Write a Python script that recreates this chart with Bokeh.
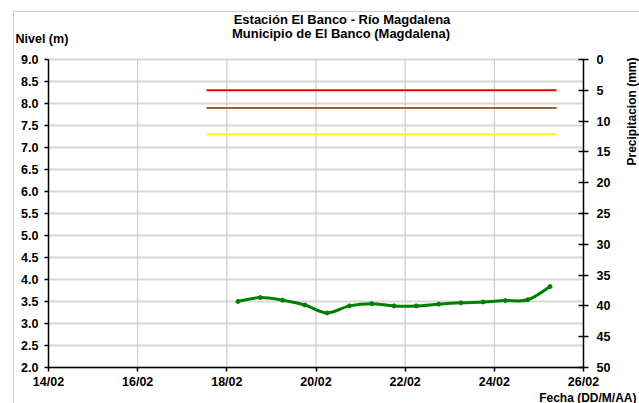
import numpy as np
import pandas as pd
from bokeh.plotting import figure
from bokeh.models import (Range1d, LinearAxis, DatetimeAxis, FixedTicker, DatetimeTickFormatter,
                          Label, BoxAnnotation, ColumnDataSource, NumeralTickFormatter)
from bokeh.embed import file_html
from bokeh.resources import INLINE

# ---------------- data ----------------
title_lines = ["Estación El Banco - Río Magdalena", "Municipio de El Banco (Magdalena)"]
y_label = "Nivel (m)"
x_label = "Fecha (DD/M/AA)"
y2_label = "Precipitacion (mm)"

level_times = ["2012-02-18 06:00", "2012-02-18 18:00", "2012-02-19 06:00", "2012-02-19 18:00",
               "2012-02-20 06:00", "2012-02-20 18:00", "2012-02-21 06:00", "2012-02-21 18:00",
               "2012-02-22 06:00", "2012-02-22 18:00", "2012-02-23 06:00", "2012-02-23 18:00",
               "2012-02-24 06:00", "2012-02-24 18:00", "2012-02-25 06:00"]
level_values = [3.50, 3.59, 3.53, 3.42, 3.24, 3.40, 3.45, 3.40,
                3.40, 3.44, 3.47, 3.49, 3.52, 3.54, 3.84]

threshold_start = "2012-02-17 13:00"
threshold_end = "2012-02-25 09:30"
threshold_values = [8.3, 7.9, 7.3]
threshold_colors = ["#FF0000", "#A0602D", "#FFFF00"]

x_start = "2012-02-14"
x_end = "2012-02-26"
x_ticks = ["2012-02-14", "2012-02-16", "2012-02-18", "2012-02-20",
           "2012-02-22", "2012-02-24", "2012-02-26"]
y_min, y_max = 2.0, 9.0
y_ticks = [2.0, 2.5, 3.0, 3.5, 4.0, 4.5, 5.0, 5.5, 6.0, 6.5, 7.0, 7.5, 8.0, 8.5, 9.0]
p_min, p_max = 0, 50
precip_ticks = [0, 5, 10, 15, 20, 25, 30, 35, 40, 45, 50]


def ms(values):
    return pd.to_datetime(values).values.astype("datetime64[ms]").astype("int64").astype(float)


FONT = "Liberation Sans"
TICK_SIZE = "12.5px"
W, H = 639, 403
# plot-area geometry in pixels (axes are drawn at fixed locations inside a full-canvas frame)
PL, PR, PT, PB = 48.0, 583.0, 59.0, 367.0

tx0, tx1 = ms([x_start, x_end])


def xd(px):
    return tx0 + (px - PL) / (PR - PL) * (tx1 - tx0)


def yd(py):
    return y_max - (py - PT) / (PB - PT) * (y_max - y_min)


def pdv(py):
    return p_min + (py - PT) / (PB - PT) * (p_max - p_min)


xt = ms(level_times)
yv = np.array(level_values, dtype=float)
xtk = list(ms(x_ticks))

p = figure(width=W, height=H,
           x_range=Range1d(xd(0), xd(W)), y_range=Range1d(yd(H), yd(0)),
           output_backend="svg", toolbar_location=None,
           x_axis_location=None, y_axis_location=None)
p.min_border = 0
p.outline_line_color = None
p.background_fill_color = "white"
p.border_fill_color = "white"
p.xgrid.visible = False
p.ygrid.visible = False

# grid lines restricted to the plot area
p.segment(x0=[tx0] * len(y_ticks), x1=[tx1] * len(y_ticks), y0=y_ticks, y1=y_ticks,
          line_color="#d8d8d8", line_width=2)
p.segment(x0=xtk, x1=xtk, y0=[y_min] * len(xtk), y1=[y_max] * len(xtk),
          line_color="#c4c4c4", line_width=1)

# chart-area border
p.add_layout(BoxAnnotation(left=xd(13), right=xd(W + 60), top=yd(11), bottom=yd(H + 60),
                           fill_color=None, line_color="#555555", line_width=1))


def style_axis(ax, tin, tout, standoff):
    ax.axis_line_color = "black"
    ax.axis_line_width = 1.5
    ax.major_tick_line_color = "black"
    ax.major_tick_line_width = 1.5
    ax.major_tick_in = tin
    ax.major_tick_out = tout
    ax.minor_tick_line_color = None
    ax.major_label_standoff = standoff
    ax.major_label_text_font = FONT
    ax.major_label_text_font_style = "bold"
    ax.major_label_text_font_size = TICK_SIZE
    ax.major_label_text_color = "black"


fmt = "%d/%m"
xaxis = DatetimeAxis(ticker=FixedTicker(ticks=xtk), bounds=(tx0, tx1), fixed_location=y_min,
                     formatter=DatetimeTickFormatter(milliseconds=fmt, seconds=fmt, minsec=fmt,
                                                     minutes=fmt, hourmin=fmt, hours=fmt,
                                                     days=fmt, months=fmt, years=fmt))
style_axis(xaxis, 0, 4, 3)
p.add_layout(xaxis, "below")

yaxis = LinearAxis(ticker=FixedTicker(ticks=y_ticks), bounds=(y_min, y_max), fixed_location=tx0,
                   formatter=NumeralTickFormatter(format="0.0"))
style_axis(yaxis, 0, 4, 6)
p.add_layout(yaxis, "left")

p.extra_y_ranges = {"precip": Range1d(start=pdv(H), end=pdv(0))}
ax2 = LinearAxis(y_range_name="precip", ticker=FixedTicker(ticks=precip_ticks),
                 bounds=(p_min, p_max), fixed_location=tx1)
style_axis(ax2, 5, 5, 8)
p.add_layout(ax2, "right")

# threshold lines
t0, t1 = ms([threshold_start, threshold_end])
for v, c in zip(threshold_values, threshold_colors):
    p.line([t0, t1], [v, v], line_color=c, line_width=2)

# smoothed level curve (Catmull-Rom style bezier through the data points)
n = len(xt)
x0s, y0s, x1s, y1s, cx0, cy0, cx1, cy1 = [], [], [], [], [], [], [], []
for i in range(n - 1):
    ip = max(i - 1, 0)
    inn = min(i + 2, n - 1)
    x0s.append(xt[i]); y0s.append(yv[i])
    x1s.append(xt[i + 1]); y1s.append(yv[i + 1])
    cx0.append(xt[i] + (xt[i + 1] - xt[ip]) / 6.0)
    cy0.append(yv[i] + (yv[i + 1] - yv[ip]) / 6.0)
    cx1.append(xt[i + 1] - (xt[inn] - xt[i]) / 6.0)
    cy1.append(yv[i + 1] - (yv[inn] - yv[i]) / 6.0)
bsrc = ColumnDataSource(dict(x0=x0s, y0=y0s, x1=x1s, y1=y1s, cx0=cx0, cy0=cy0, cx1=cx1, cy1=cy1))
p.bezier(x0="x0", y0="y0", x1="x1", y1="y1", cx0="cx0", cy0="cy0", cx1="cx1", cy1="cy1",
         source=bsrc, line_color="#008000", line_width=3)
p.scatter(xt, yv, size=4, color="#008000")


# texts
def lab(px, py, text, align="left", angle=0.0, size="12px"):
    p.add_layout(Label(x=xd(px), y=yd(py), text=text,
                       text_font=FONT, text_font_style="bold", text_font_size=size,
                       text_align=align, text_baseline="middle", angle=angle,
                       text_color="black"))


lab(341.5, 19, title_lines[0], align="center", size="13px")
lab(340.5, 33, title_lines[1], align="center", size="13px")
lab(15, 38, y_label, size="12.5px")
lab(636, 397, x_label, align="right", size="12px")
lab(631, 111, y2_label, align="center", angle=np.pi / 2, size="12px")

open("out.html", "w").write(file_html(p, INLINE))
